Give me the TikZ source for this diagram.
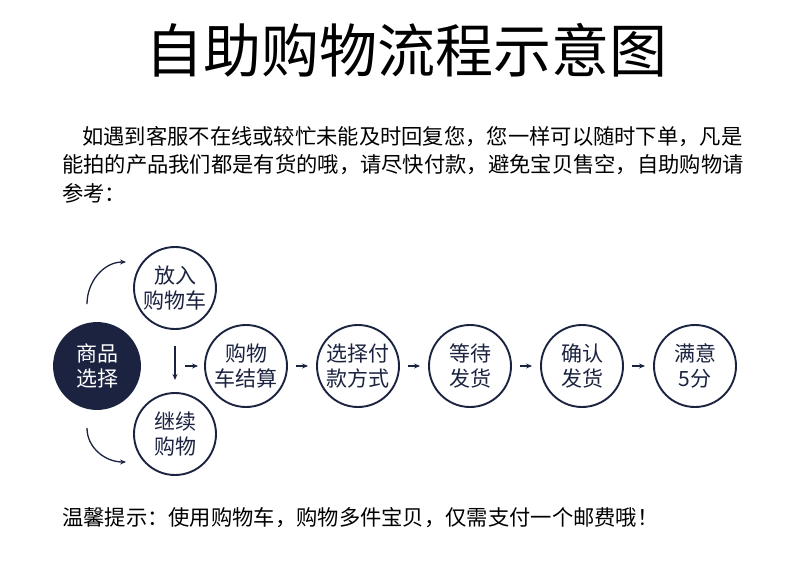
\documentclass[tikz,border=0pt]{standalone}
\usepackage{fontspec}
\newfontfamily\cjk{Noto Sans CJK SC}
\usetikzlibrary{arrows.meta}
\definecolor{navy}{HTML}{1B2340}
\tikzset{%
    stage/.style = {draw=navy, line width=1.9pt, circle, minimum size=82pt, align=center, font=\cjk\fontsize{21}{25}\selectfont, text=navy, inner sep=0pt},
    flow/.style = {-{Stealth[length=6pt,width=5pt]}, line width=1.3pt, navy},
    txt/.style = {anchor=west, font=\cjk\fontsize{21.3}{24}\selectfont, text=black, inner sep=0pt},
}
\begin{document}
\begin{tikzpicture}[x=1pt,y=-1pt]
        \useasboundingbox (0,0) rectangle (790,586);
        \node[font=\cjk\fontsize{58}{64}\selectfont] (title) at (406,50) {自助购物流程示意图};
        \node[txt] (p1) at (82,137) {如遇到客服不在线或较忙未能及时回复您，您一样可以随时下单，凡是};
        \node[txt] (p2) at (62,165) {能拍的产品我们都是有货的哦，请尽快付款，避免宝贝售空，自助购物请};
        \node[txt] (p3) at (62,193) {参考：};

        \node[stage, fill=navy, text=white, minimum size=86pt] (goods) at (97,366) {商品\\选择};
        \node[stage] (cart) at (175,288) {放入\\购物车};
        \node[stage] (more) at (175,434) {继续\\购物};
        \node[stage] (settle) at (246,366) {购物\\车结算};
        \node[stage] (pay) at (358,366) {选择付\\款方式};
        \node[stage] (wait) at (470,366) {等待\\发货};
        \node[stage] (confirm) at (582,366) {确认\\发货};
        \node[stage] (happy) at (695,366) {满意\\5分};

        % curved arrows from the dark circle
        \draw[flow] ([shift={(-10pt,18pt)}]goods.north) to[out=90, in=180] ([shift={(-7pt,26pt)}]cart.west);
        \draw[flow] ([shift={(-10pt,-18pt)}]goods.south) to[out=-90, in=180] ([shift={(-7pt,-28pt)}]more.west);
        \coordinate (mid) at (cart.south |- settle.west);
        \draw[flow] ([yshift=20pt]mid) -- ([yshift=-14pt]mid);
        \draw[flow] ([xshift=10pt]mid) -- ([xshift=-6pt]settle.west);
        \foreach \a/\b in {settle/pay, pay/wait, wait/confirm, confirm/happy}
            \draw[flow] ([xshift=8pt]\a.east) -- ([xshift=-8pt]\b.west);

        \node[txt] (tip) at (62,518) {温馨提示：使用购物车，购物多件宝贝，仅需支付一个邮费哦！};
    \end{tikzpicture}
\end{document}
